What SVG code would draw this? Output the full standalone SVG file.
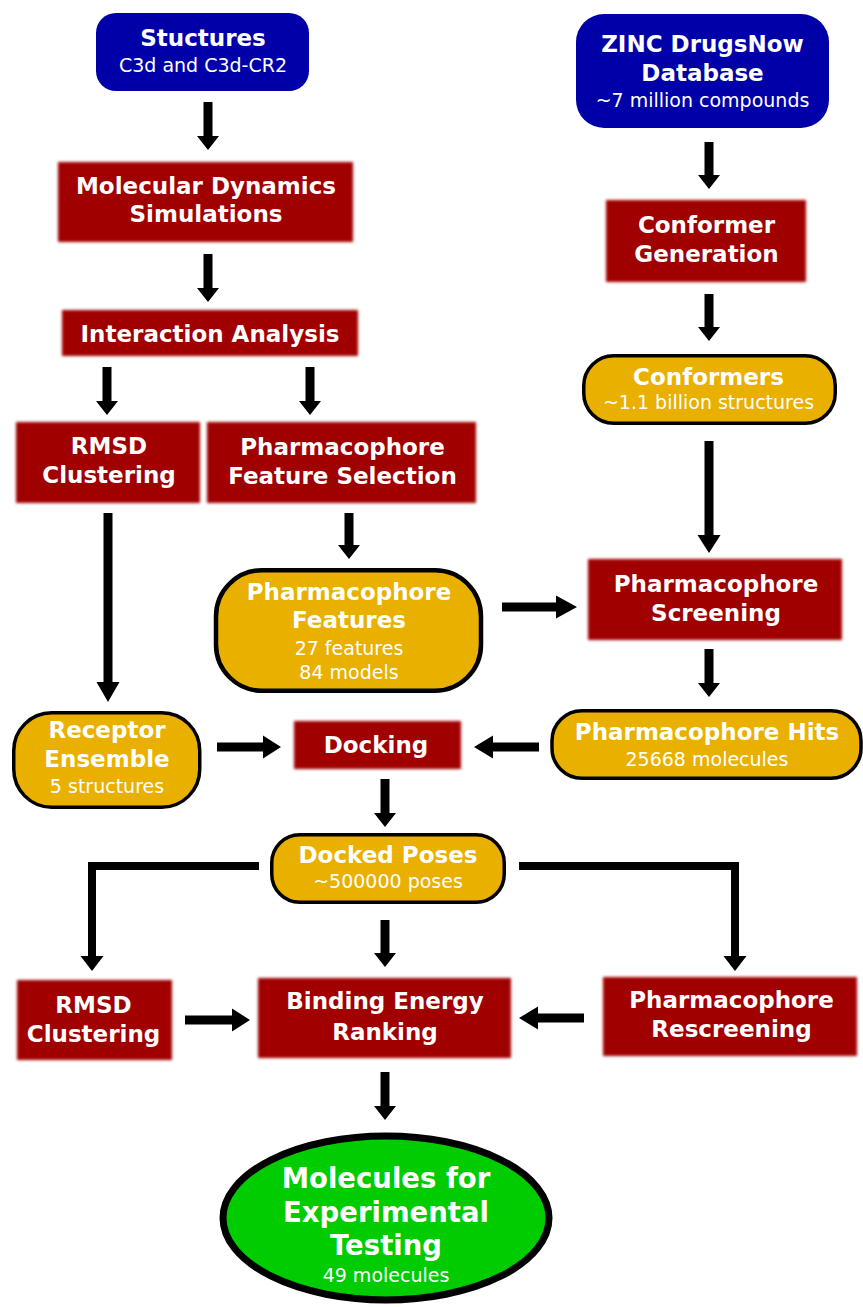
<svg xmlns="http://www.w3.org/2000/svg" width="863" height="1307" viewBox="0 0 863 1307">
<defs>
<filter id="soft" x="-10%" y="-20%" width="120%" height="140%">
<feGaussianBlur stdDeviation="1.8"/>
</filter>
<style>
text{font-family:"DejaVu Sans","Liberation Sans",sans-serif;fill:#ffffff;text-anchor:middle}
.t{font-weight:bold;font-size:23px}
.s{font-size:19px}
.big{font-weight:bold;font-size:27.5px}
.blue{fill:#0000a8}
.red{fill:#a00000;filter:url(#soft)}
.yel{fill:#e9b000;stroke:#000;stroke-width:3.5}
.arr{fill:#000}
.ln{fill:none;stroke:#000;stroke-width:8}
</style>
</defs>
<rect width="863" height="1307" fill="#ffffff"/>

<g id="connectors">
<path class="arr" d="M203.5 102H212.5V136H219L208 150L197 136H203.5Z"/>
<path class="arr" d="M203.5 254H212.5V288H219L208 302L197 288H203.5Z"/>
<path class="arr" d="M102.5 367H111.5V401H118L107 415L96 401H102.5Z"/>
<path class="arr" d="M305.5 367H314.5V401H321L310 415L299 401H305.5Z"/>
<path class="arr" d="M103.5 513H112.5V682H119.5L108 702L96.5 682H103.5Z"/>
<path class="arr" d="M344.5 513H353.5V545H360L349 559L338 545H344.5Z"/>
<path class="arr" d="M704.5 142H713.5V175H720L709 189L698 175H704.5Z"/>
<path class="arr" d="M704.5 294H713.5V327H720L709 341L698 327H704.5Z"/>
<path class="arr" d="M704.5 441H713.5V535H720.5L709 553L697.5 535H704.5Z"/>
<path class="arr" d="M704.5 649H713.5V683H720L709 697L698 683H704.5Z"/>
<path class="arr" d="M380.5 779H389.5V813H396L385 827L374 813H380.5Z"/>
<path class="arr" d="M380.5 920H389.5V953H396L385 967L374 953H380.5Z"/>
<path class="arr" d="M380.5 1072H389.5V1106H396L385 1120L374 1106H380.5Z"/>
<path class="arr" d="M502 602.5V611.5H556V618.5L577 607L556 595.5V602.5Z"/>
<path class="arr" d="M539 742.5V751.5H493V758.5L474 747L493 735.5V742.5Z"/>
<path class="arr" d="M217 742.5V751.5H263V758.5L281 747L263 735.5V742.5Z"/>
<path class="arr" d="M185 1015.5V1024.5H232V1031.5L250 1020L232 1008.5V1015.5Z"/>
<path class="arr" d="M584 1013.5V1022.5H538V1029.5L519 1018L538 1006.5V1013.5Z"/>
<path class="ln" d="M259 866H92V957"/>
<path class="arr" d="M80.5 956L103.5 956L92 971Z"/>
<path class="ln" d="M519 866H735V957"/>
<path class="arr" d="M723.5 956L746.5 956L735 971Z"/>
</g>

<g id="n-structures">
<rect class="blue" x="96" y="13" width="213" height="78" rx="20"/>
<text class="t" x="203" y="46">Stuctures</text>
<text class="s" x="203" y="72">C3d and C3d-CR2</text>
</g>

<g id="n-zinc">
<rect class="blue" x="576" y="14" width="253" height="114" rx="28"/>
<text class="t" x="702.5" y="52">ZINC DrugsNow</text>
<text class="t" x="702.5" y="81">Database</text>
<text class="s" x="702.5" y="107">~7 million compounds</text>
</g>

<g id="n-md">
<rect class="red" x="58" y="162" width="295" height="80"/>
<text class="t" x="206" y="194">Molecular Dynamics</text>
<text class="t" x="206" y="222">Simulations</text>
</g>

<g id="n-ia">
<rect class="red" x="62" y="310" width="296" height="46"/>
<text class="t" x="210" y="342">Interaction Analysis</text>
</g>

<g id="n-rmsd1">
<rect class="red" x="16" y="422" width="184" height="81"/>
<text class="t" x="109" y="454">RMSD</text>
<text class="t" x="109" y="483">Clustering</text>
</g>

<g id="n-pfs">
<rect class="red" x="207" y="422" width="269" height="81"/>
<text class="t" x="342.5" y="455">Pharmacophore</text>
<text class="t" x="342.5" y="484">Feature Selection</text>
</g>

<g id="n-pf">
<rect class="yel" x="216" y="570.25" width="265" height="120.5" rx="46" style="stroke-width:4.5"/>
<text class="t" x="349" y="600">Pharmacophore</text>
<text class="t" x="349" y="628">Features</text>
<text class="s" x="349" y="655">27 features</text>
<text class="s" x="349" y="679">84 models</text>
</g>

<g id="n-cg">
<rect class="red" x="606" y="200" width="200" height="82"/>
<text class="t" x="706.5" y="233">Conformer</text>
<text class="t" x="706.5" y="262">Generation</text>
</g>

<g id="n-conformers">
<rect class="yel" x="583.75" y="355.75" width="251.5" height="67.5" rx="30"/>
<text class="t" x="708.5" y="385">Conformers</text>
<text class="s" x="708.5" y="409">~1.1 billion structures</text>
</g>

<g id="n-ps">
<rect class="red" x="588" y="559" width="254" height="81"/>
<text class="t" x="716" y="592">Pharmacophore</text>
<text class="t" x="716" y="621">Screening</text>
</g>

<g id="n-ph">
<rect class="yel" x="552" y="710.75" width="309" height="67.5" rx="30"/>
<text class="t" x="707" y="740">Pharmacophore Hits</text>
<text class="s" x="707" y="766">25668 molecules</text>
</g>

<g id="n-re">
<rect class="yel" x="13.75" y="712.75" width="186" height="94.5" rx="38"/>
<text class="t" x="107" y="738">Receptor</text>
<text class="t" x="107" y="767">Ensemble</text>
<text class="s" x="107" y="793">5 structures</text>
</g>

<g id="n-docking">
<rect class="red" x="294" y="721" width="167" height="48"/>
<text class="t" x="376" y="753">Docking</text>
</g>

<g id="n-dp">
<rect class="yel" x="271.75" y="834.75" width="232.5" height="67.5" rx="28"/>
<text class="t" x="388" y="863">Docked Poses</text>
<text class="s" x="388" y="888">~500000 poses</text>
</g>

<g id="n-rmsd2">
<rect class="red" x="17" y="980" width="155" height="80"/>
<text class="t" x="93.5" y="1013">RMSD</text>
<text class="t" x="93.5" y="1042">Clustering</text>
</g>

<g id="n-ber">
<rect class="red" x="258" y="978" width="253" height="80"/>
<text class="t" x="385" y="1009">Binding Energy</text>
<text class="t" x="385" y="1040">Ranking</text>
</g>

<g id="n-pr">
<rect class="red" x="603" y="977" width="254" height="79"/>
<text class="t" x="731.5" y="1008">Pharmacophore</text>
<text class="t" x="731.5" y="1037">Rescreening</text>
</g>

<g id="n-final">
<ellipse cx="386" cy="1218" rx="163" ry="82" fill="#00cc00" stroke="#000" stroke-width="7"/>
<text class="big" x="386" y="1188">Molecules for</text>
<text class="big" x="386" y="1222">Experimental</text>
<text class="big" x="386" y="1255">Testing</text>
<text class="s" x="386" y="1282">49 molecules</text>
</g>
</svg>
